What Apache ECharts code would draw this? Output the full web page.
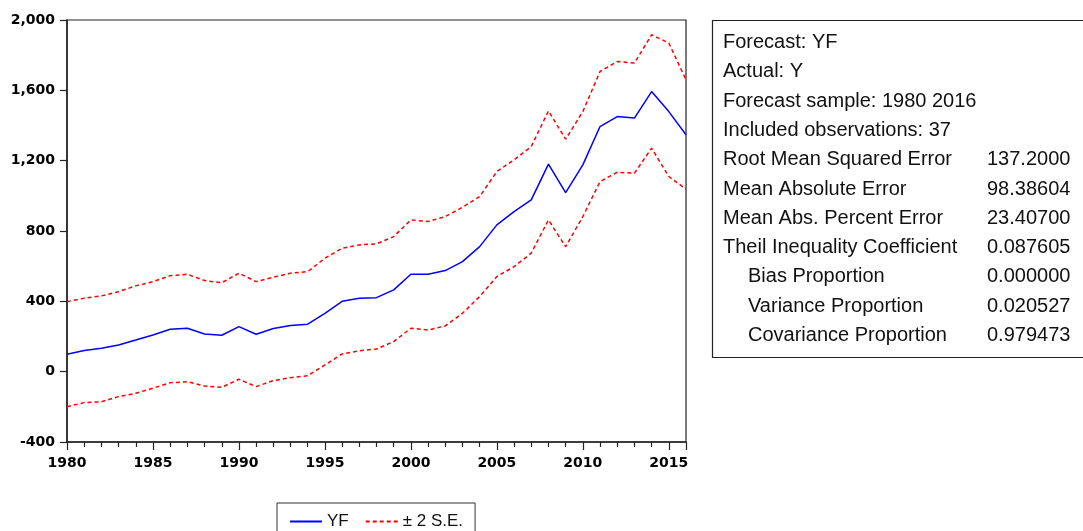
<!DOCTYPE html>
<html>
<head>
<meta charset="utf-8">
<title>Forecast: YF</title>
<script src="https://cdn.jsdelivr.net/npm/echarts@6/dist/echarts.min.js"></script>
<style>
  html, body { margin: 0; padding: 0; background: #fff; }
  #chart { width: 1083px; height: 531px; }
</style>
</head>
<body>
<div id="chart"></div>
<script>
// Forecast YF with a ±2 standard-error band, 1980–2016
const years = [1980,1981,1982,1983,1984,1985,1986,1987,1988,1989,1990,1991,1992,1993,1994,1995,1996,1997,1998,1999,2000,2001,2002,2003,2004,2005,2006,2007,2008,2009,2010,2011,2012,2013,2014,2015,2016];
const yf    = [99,120,133,152,180,209,241,247,214,207,256,213,245,262,270,332,400,418,421,465,554,554,575,626,711,835,910,977,1180,1018,1176,1394,1451,1442,1593,1479,1347];
const upper = [398,418,431,455,488,512,546,554,518,506,560,512,537,560,569,645,702,721,727,768,863,854,882,935,996,1138,1205,1280,1483,1322,1479,1707,1764,1755,1916,1869,1660];
const lower = [-199,-176,-171,-142,-123,-94,-63,-57,-81,-89,-43,-85,-51,-34,-23,38,101,119,129,171,247,237,260,332,427,541,597,674,863,711,882,1081,1134,1129,1271,1110,1038];
const yTicks = { min: -400, max: 2000, step: 400 };
const xTicks = { min: 1980, max: 2016, step: 5 };

// Forecast evaluation statistics shown beside the plot
const statLabels = [
  'Forecast: YF',
  'Actual: Y',
  'Forecast sample: 1980 2016',
  'Included observations: 37',
  'Root Mean Squared Error',
  'Mean Absolute Error',
  'Mean Abs. Percent Error',
  'Theil Inequality Coefficient',
  '   Bias Proportion',
  '   Variance Proportion',
  '   Covariance Proportion'
];
const statValues = ['', '', '', '', '137.2000', '98.38604', '23.40700', '0.087605', '0.000000', '0.020527', '0.979473'];

const pair = (xs, ys) => xs.map((x, i) => [x, ys[i]]);

const chart = echarts.init(document.getElementById('chart'), null, { renderer: 'canvas' });

const axisFont = { fontFamily: 'DejaVu Sans', fontWeight: 'bold', fontSize: 14, color: '#000' };
const boxFont = 'Liberation Sans';
const lineTop = 42.5;
const lineStep = 29.3;

const graphics = [
  {
    type: 'rect',
    shape: { x: 712.5, y: 20.5, width: 400, height: 337 },
    style: { fill: '#fff', stroke: '#222', lineWidth: 1.2 },
    z: 1
  }
];
statLabels.forEach((t, i) => {
  const indent = t.startsWith('   ');
  graphics.push({
    type: 'text',
    x: indent ? 748 : 723,
    y: lineTop + i * lineStep,
    style: {
      text: t.trim(),
      font: '20px "' + boxFont + '"',
      fill: '#111',
      textVerticalAlign: 'middle'
    },
    z: 2
  });
  if (statValues[i]) {
    graphics.push({
      type: 'text',
      x: 987,
      y: lineTop + i * lineStep,
      style: {
        text: statValues[i],
        font: '20px "' + boxFont + '"',
        fill: '#111',
        textVerticalAlign: 'middle'
      },
      z: 2
    });
  }
});

chart.setOption({
  animation: false,
  backgroundColor: '#fff',
  grid: {
    left: 67, right: 397, top: 20, bottom: 89,
    show: true, borderColor: '#222', borderWidth: 1.2, backgroundColor: '#fff'
  },
  legend: {
    left: 277, top: 503,
    data: ['YF', '± 2 S.E.'],
    itemWidth: 32, itemHeight: 14, itemGap: 16,
    padding: [10, 12, 12, 12],
    borderColor: '#333', borderWidth: 1,
    itemStyle: { opacity: 0 },
    textStyle: { fontFamily: boxFont, fontSize: 17, color: '#111' }
  },
  xAxis: {
    type: 'value',
    min: xTicks.min, max: xTicks.max, interval: xTicks.step,
    axisLine: { onZero: false, lineStyle: { color: '#222', width: 1.5 } },
    axisTick: { length: 8, lineStyle: { color: '#222', width: 1.2 } },
    minorTick: { show: true, splitNumber: 5, length: 5, lineStyle: { color: '#222', width: 1.2 } },
    splitLine: { show: false },
    axisLabel: Object.assign({ margin: 14, showMaxLabel: false, formatter: v => String(v) }, axisFont)
  },
  yAxis: {
    type: 'value',
    min: yTicks.min, max: yTicks.max, interval: yTicks.step,
    axisLine: { show: true, onZero: false, lineStyle: { color: '#222', width: 1.5 } },
    axisTick: { show: true, length: 7, lineStyle: { color: '#222', width: 1.2 } },
    splitLine: { show: false },
    axisLabel: Object.assign({
      margin: 12,
      formatter: v => v.toLocaleString('en-US')
    }, axisFont)
  },
  series: [
    {
      name: 'YF', type: 'line', data: pair(years, yf),
      symbol: 'none',
      lineStyle: { color: '#0000ff', width: 1.5 },
      itemStyle: { color: '#0000ff' }
    },
    {
      name: '± 2 S.E.', type: 'line', data: pair(years, upper),
      symbol: 'none',
      lineStyle: { color: '#ff0000', width: 1.5, type: [4, 3] },
      itemStyle: { color: '#ff0000' }
    },
    {
      name: '± 2 S.E.', type: 'line', data: pair(years, lower),
      symbol: 'none',
      lineStyle: { color: '#ff0000', width: 1.5, type: [4, 3] },
      itemStyle: { color: '#ff0000' }
    }
  ],
  graphic: graphics
});
</script>
</body>
</html>
